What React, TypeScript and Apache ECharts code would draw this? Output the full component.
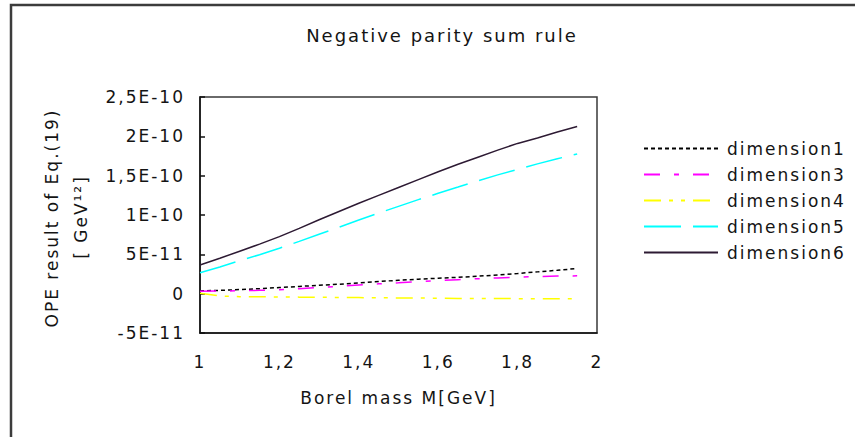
import React, { useEffect, useRef } from "react";
import * as echarts from "echarts";

// Borel mass M [GeV]
const xValues = [1.0, 1.05, 1.1, 1.15, 1.2, 1.25, 1.3, 1.35, 1.4, 1.45, 1.5, 1.55, 1.6, 1.65, 1.7, 1.75, 1.8, 1.85, 1.9, 1.95];

// OPE result values in units of 1E-11 GeV^12
const dimension1 = [0.35, 0.42, 0.52, 0.63, 0.78, 0.92, 1.06, 1.2, 1.38, 1.55, 1.7, 1.84, 1.96, 2.08, 2.22, 2.38, 2.57, 2.77, 2.97, 3.2];
const dimension3 = [0.3, 0.33, 0.37, 0.42, 0.5, 0.63, 0.78, 0.93, 1.1, 1.25, 1.38, 1.52, 1.65, 1.78, 1.9, 2.0, 2.1, 2.18, 2.23, 2.27];
const dimension4 = [0.05, -0.3, -0.38, -0.4, -0.42, -0.44, -0.46, -0.48, -0.5, -0.52, -0.54, -0.56, -0.58, -0.6, -0.61, -0.62, -0.63, -0.64, -0.65, -0.66];
const dimension5 = [2.67, 3.4, 4.2, 4.95, 5.77, 6.65, 7.55, 8.45, 9.37, 10.25, 11.1, 11.95, 12.76, 13.55, 14.35, 15.1, 15.8, 16.5, 17.15, 17.76];
const dimension6 = [3.65, 4.5, 5.4, 6.3, 7.25, 8.3, 9.4, 10.45, 11.5, 12.5, 13.5, 14.5, 15.5, 16.45, 17.35, 18.25, 19.1, 19.8, 20.55, 21.25];

const yTickLabels = ["-5E-11", "0", "5E-11", "1E-10", "1,5E-10", "2E-10", "2,5E-10"];
const xTickLabels = ["1", "1,2", "1,4", "1,6", "1,8", "2"];

const Y_MIN = -5;
const Y_MAX = 25;
const Y_STEP = 5;
const X_MIN = 1;
const X_MAX = 2;
const X_STEP = 0.2;

const FONT = "'DejaVu Sans', sans-serif";
const TEXT_COLOR = "#141414";

const seriesDefs = [
  { name: "dimension1", data: dimension1, color: "#000000", type: [4, 3] as number[] | string },
  { name: "dimension3", data: dimension3, color: "#ff00ff", type: [16, 14, 5, 14] as number[] | string },
  { name: "dimension4", data: dimension4, color: "#ffff00", type: [17, 8, 4, 8, 4, 8] as number[] | string },
  { name: "dimension5", data: dimension5, color: "#00ffff", type: [37, 12] as number[] | string },
  { name: "dimension6", data: dimension6, color: "#2d1a33", type: "solid" as number[] | string },
];

export default function App() {
  const ref = useRef<HTMLDivElement | null>(null);

  useEffect(() => {
    if (!ref.current) return;
    const chart = echarts.init(ref.current, null, { renderer: "svg" });
    chart.setOption({
      animation: false,
      backgroundColor: "#ffffff",
      title: {
        text: "Negative parity sum rule",
        left: 437,
        top: 21,
        textAlign: "center",
        textStyle: { fontFamily: FONT, fontSize: 18, fontWeight: "normal", color: TEXT_COLOR },
      },
      legend: {
        orient: "vertical",
        left: 643,
        top: 140,
        padding: 0,
        itemWidth: 74,
        itemHeight: 14,
        itemGap: 9,
        data: seriesDefs.map((s) => s.name),
        itemStyle: { opacity: 0 },
        textStyle: { fontFamily: FONT, fontSize: 17, color: TEXT_COLOR, lineHeight: 17, padding: [0, 0, 0, 4] },
      },
      grid: {
        left: 200,
        top: 97,
        width: 397,
        height: 236,
        show: true,
        borderColor: "#3a3a3a",
        borderWidth: 1.5,
        backgroundColor: "transparent",
      },
      xAxis: {
        type: "value",
        min: X_MIN,
        max: X_MAX,
        interval: X_STEP,
        name: "Borel mass M[GeV]",
        nameLocation: "middle",
        nameGap: 56,
        nameTextStyle: { fontFamily: FONT, fontSize: 17, color: TEXT_COLOR, verticalAlign: "top" },
        axisLine: { show: true, onZero: false, lineStyle: { color: "#111", width: 1.5 } },
        axisTick: { show: false },
        splitLine: { show: false },
        axisLabel: {
          margin: 20,
          fontFamily: FONT,
          fontSize: 17,
          color: TEXT_COLOR,
          formatter: (v: number) => xTickLabels[Math.round((v - X_MIN) / X_STEP)] ?? "",
        },
      },
      yAxis: {
        type: "value",
        min: Y_MIN,
        max: Y_MAX,
        interval: Y_STEP,
        axisLine: { show: true, onZero: false, lineStyle: { color: "#111", width: 1.5 } },
        axisTick: { show: true, inside: true, length: 5, lineStyle: { color: "#111", width: 1.5 } },
        splitLine: { show: false },
        axisLabel: {
          margin: 15,
          fontFamily: FONT,
          fontSize: 17,
          color: TEXT_COLOR,
          formatter: (v: number) => yTickLabels[Math.round((v - Y_MIN) / Y_STEP)] ?? "",
        },
      },
      graphic: [
        {
          type: "rect",
          shape: { x: 11, y: 5, width: 1000, height: 600 },
          style: { fill: "none", stroke: "#3c3c3c", lineWidth: 2.5 },
          silent: true,
        },
        {
          type: "text",
          x: 52,
          y: 218,
          rotation: Math.PI / 2,
          style: {
            text: "OPE result of Eq.(19)",
            fontFamily: FONT,
            fontSize: 17,
            fill: TEXT_COLOR,
            align: "center",
            verticalAlign: "middle",
          },
        },
        {
          type: "text",
          x: 81,
          y: 217,
          rotation: Math.PI / 2,
          style: {
            text: "[ GeV¹²]",
            fontFamily: FONT,
            fontSize: 17,
            fill: TEXT_COLOR,
            align: "center",
            verticalAlign: "middle",
          },
        },
      ],
      series: seriesDefs.map((s) => ({
        name: s.name,
        type: "line",
        symbol: "none",
        showSymbol: false,
        color: s.color,
        lineStyle: { color: s.color, width: 1.5, type: s.type },
        data: xValues.map((x, i) => [x, s.data[i]]),
      })),
    });
    return () => chart.dispose();
  }, []);

  return (
    <div style={{ position: "absolute", left: 0, top: 0, width: 855, height: 437, background: "#fff" }}>
      <style>{`#chart-host text { letter-spacing: 2px; }`}</style>
      <div id="chart-host" ref={ref} style={{ width: 855, height: 437 }} />
    </div>
  );
}
